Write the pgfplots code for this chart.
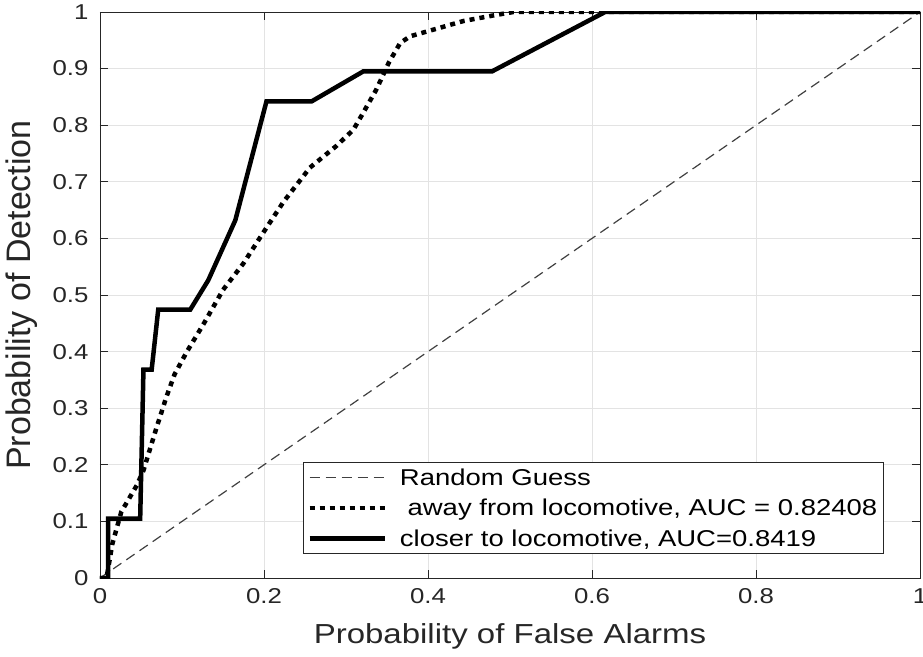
\documentclass[border=0pt]{standalone}
\usepackage{pgfplots}
\pgfplotsset{compat=1.18}
\usepackage{fontspec}
\setmainfont{Liberation Sans}[FakeStretch=1.2]
\newfontfamily\plainsans{Liberation Sans}

\definecolor{axgray}{HTML}{262626}
\definecolor{gridgray}{HTML}{E3E3E3}

\begin{document}
\begin{tikzpicture}
\begin{axis}[
    scale only axis,
    width=820pt, height=566pt,
    xmin=0, xmax=1, ymin=0, ymax=1,
    xtick={0,0.2,0.4,0.6,0.8,1},
    ytick={0,0.1,0.2,0.3,0.4,0.5,0.6,0.7,0.8,0.9,1},
    tick align=inside,
    xtick pos=both, ytick pos=both,
    major tick length=8pt,
    tick style={axgray, line width=0.8pt},
    grid=major,
    grid style={gridgray, line width=0.9pt},
    axis line style={axgray, line width=0.9pt},
    /pgf/number format/assume math mode=true,
    tick label style={font=\fontsize{21.5}{24}\selectfont, text=axgray},
    yticklabel style={xshift=-8pt},
    xticklabel style={yshift=-7pt},
    xlabel={Probability of False Alarms},
    ylabel={Probability of Detection},
    every axis x label/.style={at={(axis description cs:0.5,-0.1025)}, anchor=center,
        font=\fontsize{27.5}{30}\selectfont, text=axgray},
    every axis y label/.style={at={(axis description cs:-0.095,0.5)}, rotate=90, anchor=center,
        font=\plainsans\fontsize{34}{36}\selectfont, text=axgray},
    legend style={at={(0.2476,0.205)}, anchor=north west,
        draw=axgray, line width=0.9pt, fill=white,
        font=\fontsize{22.9}{24}\selectfont, text=black,
        inner xsep=4pt, inner ysep=4pt, row sep=8.5pt,
        cells={anchor=west}},
    legend image code/.code={\draw[#1] (0pt,0pt) -- (75pt,0pt); \path (86pt,0pt);},
]
\addplot[black!75, line width=1.2pt, dash pattern=on 10pt off 6pt] coordinates {(0,0) (1,1)};
\addlegendentry{Random Guess}

\addplot[black, line width=4.5pt, dash pattern=on 5pt off 5pt] coordinates {
(0,0) (0.008,0) (0.015,0.06) (0.026,0.117) (0.045,0.164) (0.053,0.19)
(0.069,0.266) (0.081,0.32) (0.091,0.36) (0.106,0.40) (0.126,0.448)
(0.150,0.509) (0.175,0.556) (0.199,0.61) (0.224,0.665) (0.256,0.725)
(0.288,0.763) (0.309,0.792) (0.321,0.822) (0.337,0.863) (0.352,0.91)
(0.366,0.945) (0.378,0.957) (0.407,0.969) (0.443,0.984) (0.480,0.994)
(0.504,1.0) (1,1)};
\addlegendentry{\ away from locomotive, AUC = 0.82408}

\addplot[black, line width=4.5pt] coordinates {
(0,0) (0.010,0) (0.010,0.105) (0.049,0.105) (0.053,0.368) (0.063,0.368)
(0.071,0.474) (0.110,0.474) (0.132,0.526) (0.165,0.632) (0.203,0.842)
(0.258,0.842) (0.321,0.895) (0.478,0.895) (0.616,1) (1,1)};
\addlegendentry{closer to locomotive, AUC=0.8419}
\end{axis}
\pgfresetboundingbox
\path[use as bounding box] (-100pt,-78pt) rectangle (823pt,578pt);
\end{tikzpicture}
\end{document}
